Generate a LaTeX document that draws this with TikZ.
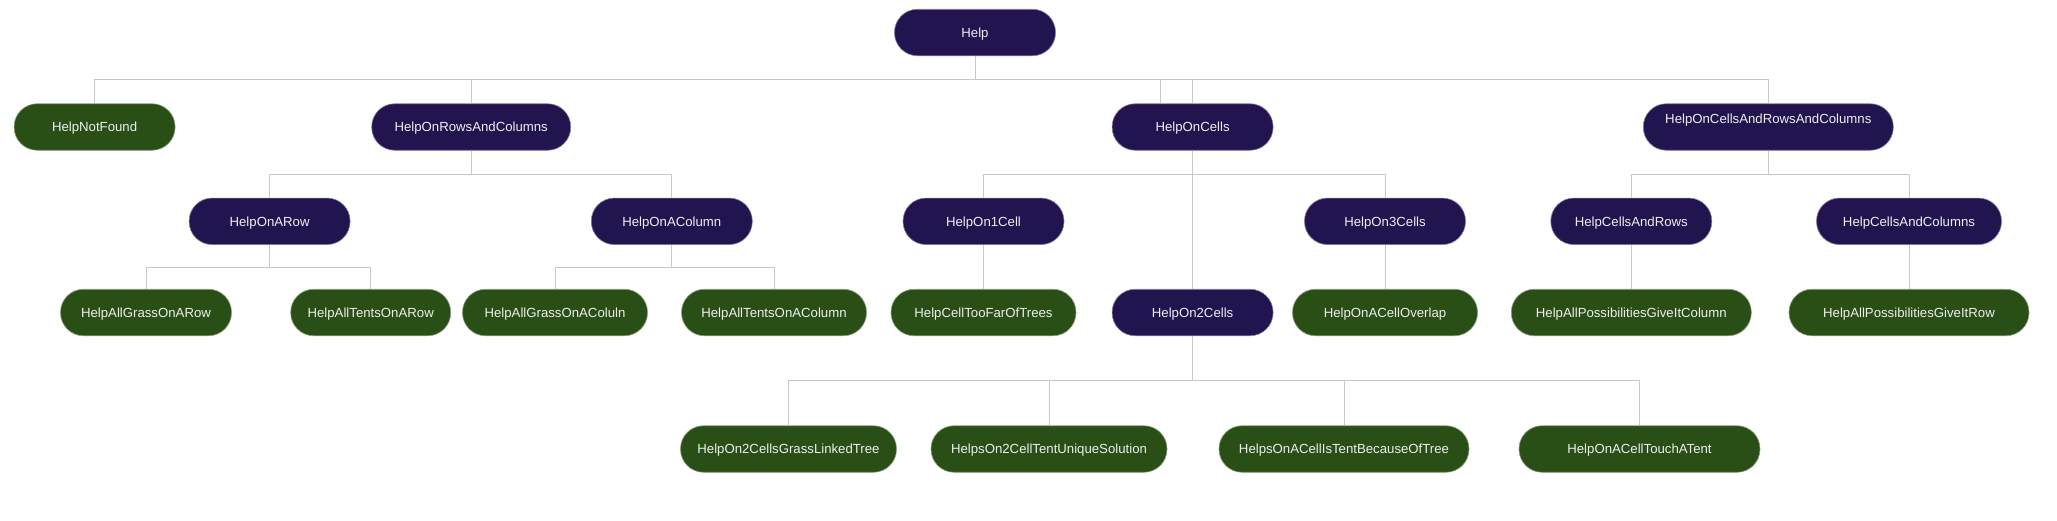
\documentclass[tikz,border=0pt]{standalone}
\usepackage{fontspec}
\setmainfont{Liberation Sans}
\definecolor{pur}{HTML}{22154F}
\definecolor{grn}{HTML}{294F16}
\definecolor{txt}{HTML}{EEEEEE}
\definecolor{lin}{HTML}{C8C8C8}
\tikzset{
  base/.style={rectangle, rounded corners=23pt, minimum height=46.5pt, inner sep=0pt,
    text=txt, font=\fontsize{13.2}{15}\selectfont, text height=9.5pt, text depth=0pt, line width=0.6pt},
  pnode/.style={base, fill=pur, draw=pur!55!white},
  gnode/.style={base, fill=grn, draw=grn!55!white},
  conn/.style={draw=lin, line width=1pt}
}
\begin{document}
\begin{tikzpicture}[x=1pt,y=-1pt]
\useasboundingbox[fill=white] (0,0) rectangle (2057,520);
% row 0
\node[pnode, minimum width=161pt] (help) at (975,32.5) {Help};
% row 1
\node[gnode, minimum width=161pt] (notfound) at (94.6,127) {HelpNotFound};
\node[pnode, minimum width=199pt] (rowscols) at (471.2,127) {HelpOnRowsAndColumns};
\node[pnode, minimum width=161pt] (cells) at (1192.6,127) {HelpOnCells};
\node[pnode, minimum width=250pt] (cellsrc) at (1768.3,127) {\raisebox{8pt}{HelpOnCellsAndRowsAndColumns}};
% row 2
\node[pnode, minimum width=161pt] (arow) at (269.6,221.3) {HelpOnARow};
\node[pnode, minimum width=161pt] (acol) at (671.8,221.3) {HelpOnAColumn};
\node[pnode, minimum width=161pt] (on1) at (983.5,221.3) {HelpOn1Cell};
\node[pnode, minimum width=161pt] (on3) at (1385,221.3) {HelpOn3Cells};
\node[pnode, minimum width=161pt] (cr) at (1631.3,221.3) {HelpCellsAndRows};
\node[pnode, minimum width=185pt] (cc) at (1909,221.3) {HelpCellsAndColumns};
% row 3
\node[gnode, minimum width=171pt] (grassrow) at (146,312.5) {HelpAllGrassOnARow};
\node[gnode, minimum width=160pt] (tentsrow) at (370.7,312.5) {HelpAllTentsOnARow};
\node[gnode, minimum width=185pt] (grasscol) at (555,312.5) {HelpAllGrassOnAColuln};
\node[gnode, minimum width=185pt] (tentscol) at (774,312.5) {HelpAllTentsOnAColumn};
\node[gnode, minimum width=185pt] (toofar) at (983.5,312.5) {HelpCellTooFarOfTrees};
\node[pnode, minimum width=161pt] (on2) at (1192.6,312.5) {HelpOn2Cells};
\node[gnode, minimum width=185pt] (overlap) at (1385,312.5) {HelpOnACellOverlap};
\node[gnode, minimum width=240pt] (pcol) at (1631.3,312.5) {HelpAllPossibilitiesGiveItColumn};
\node[gnode, minimum width=240pt] (prow) at (1909,312.5) {HelpAllPossibilitiesGiveItRow};
% row 4
\node[gnode, minimum width=216pt] (gl) at (788.5,449) {HelpOn2CellsGrassLinkedTree};
\node[gnode, minimum width=236pt] (tu) at (1049,449) {HelpsOn2CellTentUniqueSolution};
\node[gnode, minimum width=250pt] (tb) at (1344,449) {HelpsOnACellIsTentBecauseOfTree};
\node[gnode, minimum width=241pt] (touch) at (1639.5,449) {HelpOnACellTouchATent};
% bus levels
\coordinate (b0) at (0,79.3);
\coordinate (b1) at (0,174);
\coordinate (b2) at (0,267.3);
\coordinate (b3) at (0,380.3);
\coordinate (xc) at (1160.2,79.3);
% connectors
\begin{scope}[on background layer/.style={}]
\foreach \c in {notfound,rowscols,cells,cellsrc}
  \draw[conn] (help.south) -- (help.south |- b0) -| (\c.north);
\draw[conn] (xc) -- (xc |- cells.north);
\foreach \c in {arow,acol}
  \draw[conn] (rowscols.south) -- (rowscols.south |- b1) -| (\c.north);
\foreach \c in {on1,on3}
  \draw[conn] (cells.south) -- (cells.south |- b1) -| (\c.north);
\draw[conn] (cells.south) -- (on2.north);
\foreach \c in {cr,cc}
  \draw[conn] (cellsrc.south) -- (cellsrc.south |- b1) -| (\c.north);
\foreach \c in {grassrow,tentsrow}
  \draw[conn] (arow.south) -- (arow.south |- b2) -| (\c.north);
\foreach \c in {grasscol,tentscol}
  \draw[conn] (acol.south) -- (acol.south |- b2) -| (\c.north);
\draw[conn] (on1.south) -- (toofar.north);
\draw[conn] (on3.south) -- (overlap.north);
\draw[conn] (cr.south) -- (pcol.north);
\draw[conn] (cc.south) -- (prow.north);
\foreach \c in {gl,tu,tb,touch}
  \draw[conn] (on2.south) -- (on2.south |- b3) -| (\c.north);
\end{scope}
\end{tikzpicture}
\end{document}
